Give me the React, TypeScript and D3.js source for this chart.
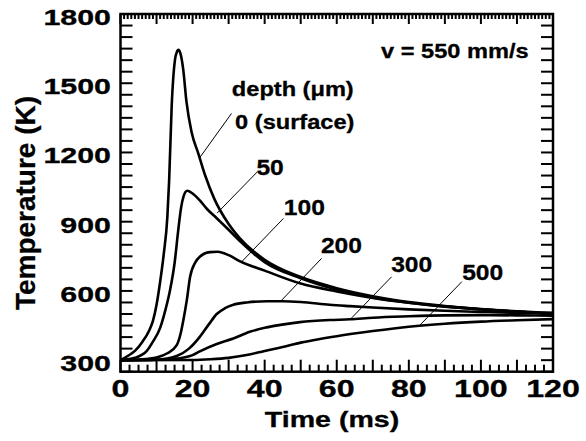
import React from "react";
import * as d3 from "d3";

// temperature histories (K), time in ms
const surfaceTime = [0, 2, 4, 6, 8, 9, 10, 11, 12, 13, 13.5, 14.2, 15.1, 15.7, 16.1, 16.6, 17.4, 18.3, 19.7, 21.6, 23.5, 26, 30, 33, 40, 50, 60, 70, 80, 90, 100, 110, 120];
const surfaceTemp = [300, 318, 340, 378, 430, 470, 540, 640, 760, 920, 1080, 1400, 1600, 1638, 1645, 1630, 1560, 1420, 1290, 1195, 1100, 1000, 890, 830, 735, 660, 612, 577, 552, 535, 522, 512, 505];

const d50Time = [0, 4, 7.3, 9, 11, 12.5, 13.7, 15, 16, 16.8, 17.5, 18.5, 20, 22, 24, 26.7, 30, 33.2, 40, 50, 60, 70, 80, 90, 100, 110, 120];
const d50Temp = [300, 310, 340, 380, 440, 520, 600, 720, 860, 960, 1010, 1034, 1022, 992, 955, 915, 865, 815, 725, 655, 606, 572, 549, 532, 520, 510, 503];

const d100Time = [0, 5, 10, 13, 15.6, 16.6, 17.4, 18.4, 19.3, 20.8, 22, 24.8, 27, 30, 33.2, 40, 50, 60, 70, 80, 90, 100, 110, 120];
const d100Temp = [300, 303, 312, 330, 365, 410, 470, 560, 660, 725, 748, 768, 770, 755, 728, 688, 632, 598, 570, 549, 533, 520, 510, 503];

const d200Time = [0, 10, 15.6, 19, 22, 24.5, 26.7, 29, 31.3, 35, 40.6, 45, 50, 58, 63.7, 70, 80, 90, 100, 110, 120];
const d200Temp = [300, 302, 318, 350, 401, 455, 500, 525, 540, 550, 555, 555, 552, 540, 534, 528, 520, 514, 509, 505, 502];

const d300Time = [0, 10, 15, 20, 22, 26.7, 31.3, 35.9, 40.6, 49.8, 58, 63.7, 70, 80, 90, 100, 110, 120];
const d300Temp = [300, 302, 306, 322, 338, 370, 394, 423, 442, 465, 474, 477, 484, 490, 494, 495, 494, 493];

const d500Time = [0, 20, 25, 30, 35, 40, 45, 50, 55, 60, 70, 80, 90, 100, 110, 120];
const d500Temp = [300, 301, 304, 310, 322, 340, 357, 376, 391, 404, 426, 445, 458, 467, 473, 478];

const seriesTime = [surfaceTime, d50Time, d100Time, d200Time, d300Time, d500Time];
const seriesTemp = [surfaceTemp, d50Temp, d100Temp, d200Temp, d300Temp, d500Temp];

// depth labels with their leader lines (data units)
const depthLabels = ["0 (surface)", "50", "100", "200", "300", "500"];
const labelTime = [31.8, 37.7, 45.3, 55.6, 75.1, 94.8];
const labelTemp = [1301, 1102, 929, 764, 682, 647];
const leaderFromTime = [30.8, 37.9, 45.2, 55.8, 75.2, 94.7];
const leaderFromTemp = [1369, 1115, 914, 741, 661, 640];
const leaderToTime = [22.1, 26.8, 33.6, 44.3, 63.7, 83.1];
const leaderToTemp = [1180, 937, 726, 553, 476, 452];

const xTicks = [0, 20, 40, 60, 80, 100, 120];
const yTicks = [300, 600, 900, 1200, 1500, 1800];

const W = 586;
const H = 441;
const FONT = "'Liberation Sans', Arial, Helvetica, sans-serif";

function Label(props: any) {
  const { x, y, size, sx = 1, anchor = "start", children } = props;
  return (
    <text
      transform={`translate(${x},${y}) scale(${sx},1)`}
      textAnchor={anchor}
      fontFamily={FONT}
      fontWeight="bold"
      fontSize={size}
      fill="#000"
      stroke="#000"
      strokeWidth={0.3}
    >
      {children}
    </text>
  );
}

export default function App() {
  const x = d3.scaleLinear().domain([0, 120]).range([120.5, 553]);
  const y = d3.scaleLinear().domain([250, 1800]).range([371.7, 14]);

  const line = d3
    .line<number>()
    .curve(d3.curveMonotoneX);

  const paths = seriesTime.map((ts, i) =>
    line.x((_, j) => x(ts[j])).y((_, j) => y(seriesTemp[i][j]))(ts) as string
  );

  const [x0, x1] = x.range();
  const [y0, y1] = y.range();

  const topTicks = d3.range(0, 121, 1);
  const bottomTicks = d3.range(0, 120.1, 2.5);
  const sideTicks = d3.range(250, 1801, 50);

  return (
    <svg width={W} height={H} style={{ position: "absolute", left: 0, top: 0 }}>
      <rect width={W} height={H} fill="#fff" />

      {/* curves */}
      {paths.map((d, i) => (
        <path key={i} d={d} fill="none" stroke="#000" strokeWidth={2.6} strokeLinejoin="round" />
      ))}

      {/* ticks */}
      <g stroke="#000" strokeWidth={2}>
        {sideTicks.map((v) => (
          <g key={"s" + v}>
            <line x1={x0} x2={x0 + 12} y1={y(v)} y2={y(v)} />
            <line x1={x1} x2={x1 - 12} y1={y(v)} y2={y(v)} />
          </g>
        ))}
        {topTicks.map((v) => (
          <line key={"t" + v} x1={x(v)} x2={x(v)} y1={y1} y2={y1 + (v % 10 === 0 ? 10 : 5)} />
        ))}
        {bottomTicks.map((v) => (
          <line key={"b" + v} x1={x(v)} x2={x(v)} y1={y0} y2={y0 - (v % 10 === 0 ? 12 : 7)} />
        ))}
      </g>

      {/* frame */}
      <rect x={x0} y={y1} width={x1 - x0} height={y0 - y1} fill="none" stroke="#000" strokeWidth={2.5} />

      {/* tick labels */}
      {yTicks.map((v) => (
        <Label key={"yl" + v} x={111} y={y(v) + 11} size={22} sx={1.38} anchor="end">
          {v}
        </Label>
      ))}
      {xTicks.map((v) => (
        <Label key={"xl" + v} x={x(v)} y={397} size={23} sx={1.4} anchor="middle">
          {v}
        </Label>
      ))}

      {/* axis titles */}
      <Label x={332} y={427} size={22} sx={1.3} anchor="middle">
        Time (ms)
      </Label>
      <text
        transform={`translate(35,203) rotate(-90)`}
        textAnchor="middle"
        fontFamily={FONT}
        fontWeight="bold"
        fontSize={28}
        stroke="#000"
        strokeWidth={0.3}
      >
        Temperature (K)
      </text>

      {/* annotations */}
      <Label x={x(72.3)} y={y(1609)} size={20} sx={1.18}>
        v = 550 mm/s
      </Label>
      <Label x={x(30.9)} y={y(1445)} size={20} sx={1.18}>
        depth (μm)
      </Label>
      {depthLabels.map((s, i) => (
        <g key={"dl" + i}>
          <line
            x1={x(leaderFromTime[i])}
            y1={y(leaderFromTemp[i])}
            x2={x(leaderToTime[i])}
            y2={y(leaderToTemp[i])}
            stroke="#000"
            strokeWidth={1}
          />
          <Label
            x={x(labelTime[i])}
            y={y(labelTemp[i])}
            size={i === 0 ? 20 : 22}
            sx={i === 0 ? 1.18 : 1.12}
          >
            {s}
          </Label>
        </g>
      ))}
    </svg>
  );
}
